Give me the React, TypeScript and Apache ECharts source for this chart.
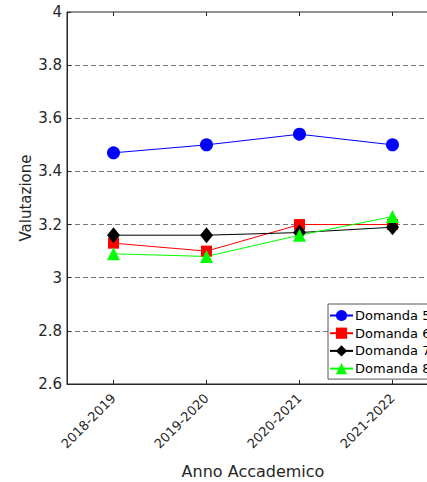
import React, { useEffect, useRef } from "react";
import * as echarts from "echarts";

const categories = ["2018-2019", "2019-2020", "2020-2021", "2021-2022"];
const domanda5 = [3.47, 3.50, 3.54, 3.50];
const domanda6 = [3.13, 3.10, 3.20, 3.20];
const domanda7 = [3.16, 3.16, 3.17, 3.19];
const domanda8 = [3.09, 3.08, 3.16, 3.23];
const seriesNames = ["Domanda 5", "Domanda 6", "Domanda 7", "Domanda 8"];
const yMin = 2.6;
const yMax = 4;
const yStep = 0.2;

const FONT = "DejaVu Sans, Verdana, sans-serif";
const AXIS = "#262626";

export default function App() {
  const ref = useRef<HTMLDivElement>(null);
  useEffect(() => {
    if (!ref.current) return;
    const chart = echarts.init(ref.current, undefined, { renderer: "svg" });
    const mk = (name: string, data: number[], color: string, symbol: string, size: any) => ({
      name,
      type: "line",
      data,
      xAxisIndex: 0,
      yAxisIndex: 0,
      symbol,
      symbolSize: size,
      showSymbol: true,
      lineStyle: { color, width: 1 },
      itemStyle: { color, borderWidth: 0 },
      emphasis: { disabled: true },
    });
    chart.setOption({
      animation: false,
      textStyle: { fontFamily: FONT },
      grid: {
        left: 67,
        top: 12,
        width: 372,
        height: 372,
        outerBoundsMode: "none",
        containLabel: false,
        show: true,
        borderColor: AXIS,
        borderWidth: 1,
        backgroundColor: "#ffffff",
      },
      legend: {
        data: seriesNames,
        orient: "vertical",
        left: 328,
        top: 304,
        padding: [5, 40, 4, 1],
        itemGap: 4.7,
        itemWidth: 23,
        itemHeight: 14,
        borderColor: "#555555",
        borderWidth: 1,
        backgroundColor: "#ffffff",
        textStyle: { fontFamily: FONT, fontSize: 13, color: "#000000", padding: [0, 0, 0, -3] },
      },
      xAxis: [
        {
          type: "category",
          data: categories,
          position: "bottom",
          boundaryGap: true,
          name: "Anno Accademico",
          nameLocation: "middle",
          nameGap: 79,
          nameMoveOverlap: false,
          nameTextStyle: { fontFamily: FONT, fontSize: 16, color: AXIS },
          axisLine: { show: true, lineStyle: { color: AXIS, width: 1 } },
          axisTick: { show: true, inside: true, length: 4, alignWithLabel: true, lineStyle: { color: AXIS } },
          axisLabel: { rotate: 45, margin: 12, fontFamily: FONT, fontSize: 13, color: AXIS },
          splitLine: { show: false },
        },
        {
          type: "category",
          data: categories,
          position: "top",
          boundaryGap: true,
          axisLine: { show: false },
          axisTick: { show: true, inside: true, length: 4, alignWithLabel: true, lineStyle: { color: AXIS } },
          axisLabel: { show: false },
          splitLine: { show: false },
        },
      ],
      yAxis: [
        {
          type: "value",
          min: yMin,
          max: yMax,
          interval: yStep,
          name: "Valutazione",
          nameLocation: "middle",
          nameGap: 34,
          nameMoveOverlap: false,
          nameTextStyle: { fontFamily: FONT, fontSize: 15, color: AXIS },
          axisLine: { show: true, lineStyle: { color: AXIS, width: 1 } },
          axisTick: { show: true, inside: true, length: 4, lineStyle: { color: AXIS } },
          axisLabel: { margin: 5, fontFamily: FONT, fontSize: 15, color: AXIS },
          splitLine: {
            show: true,
            showMinLine: false,
            showMaxLine: false,
            lineStyle: { color: "#7a7a7a", type: [5, 3], width: 1 },
          },
        },
      ],
      series: [
        mk(seriesNames[0], domanda5, "#0000ff", "circle", 13),
        mk(seriesNames[1], domanda6, "#ff0000", "rect", 11),
        mk(seriesNames[2], domanda7, "#000000", "diamond", [13, 16]),
        mk(seriesNames[3], domanda8, "#00ff00", "triangle", 13),
      ],
    });
    return () => chart.dispose();
  }, []);
  return (
    <div style={{ position: "fixed", left: 0, top: 0, width: 427, height: 482, overflow: "hidden", background: "#fff" }}>
      <div ref={ref} style={{ width: 480, height: 482 }} />
    </div>
  );
}
